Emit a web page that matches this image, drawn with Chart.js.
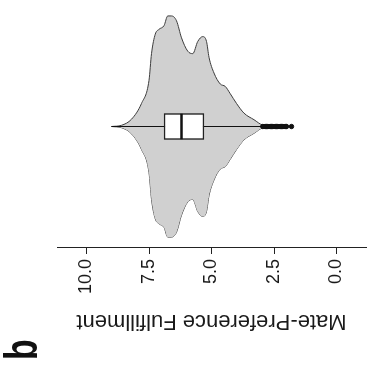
<!DOCTYPE html>
<html>
<head>
<meta charset="utf-8">
<script src="https://cdn.jsdelivr.net/npm/chart.js@4.4.1/dist/chart.umd.min.js"></script>
<style>
    html, body { margin: 0; padding: 0; background: #fff; overflow: hidden; }
    /* the figure is stored turned a quarter turn, so draw it upright and turn the canvas */
    #wrap {
        position: absolute; left: 0; top: 0;
        width: 370px; height: 371px;
        transform-origin: 0 0;
        transform: translateY(370px) rotate(-90deg);
    }
</style>
</head>
<body>
<div id="wrap"><canvas id="violinChart" width="370" height="371"></canvas></div>
<script>
// axis ticks
const tickValues = [0, 2.5, 5, 7.5, 10];

// violin outline: value and half-width (density) at that value
const violinValues  = [9.0, 8.6, 8.2, 7.8, 7.5, 7.4, 7.25, 7.1, 6.9, 6.75, 6.6, 6.4, 6.2, 5.95, 5.75, 5.55, 5.35, 5.2, 5.1, 4.9, 4.65, 4.45, 4.25, 4.0, 3.7, 3.3, 2.95, 2.5, 1.8];
const violinDensity = [0, 0.01, 0.06, 0.19, 0.38, 0.6, 0.76, 0.8, 0.83, 0.91, 0.91, 0.87, 0.73, 0.62, 0.6, 0.7, 0.74, 0.7, 0.57, 0.44, 0.35, 0.33, 0.27, 0.19, 0.11, 0.056, 0.012, 0.004, 0];

// boxplot
const boxRange = [5.3, 6.9];
const medianValue = 6.2;
const whiskerRange = [3.0, 9.0];
const outlierValues = [2.95, 2.9, 2.85, 2.8, 2.75, 2.7, 2.65, 2.6, 2.55, 2.5, 2.45, 2.4, 2.35, 2.3, 2.25, 2.2, 2.15, 2.1, 2.05, 2.0, 1.8];

const fontFamily = '"Liberation Sans", Arial, sans-serif';
const boxHalf = 0.105;

// panel letter, squeezed a bit to look like the narrow original face
const panelLetter = {
    id: 'panelLetter',
    afterDraw: function (chart) {
        const ctx = chart.ctx;
        ctx.save();
        ctx.translate(10, 37);
        ctx.scale(0.72, 1);
        ctx.fillStyle = '#111';
        ctx.font = 'bold 47px ' + fontFamily;
        ctx.textBaseline = 'alphabetic';
        ctx.fillText('b', 0, 0);
        ctx.restore();
    }
};

document.addEventListener('DOMContentLoaded', function () {
    const ctx = document.getElementById('violinChart').getContext('2d');
    new Chart(ctx, {
        type: 'line',
        data: {
            datasets: [{
                label: 'Violin right',
                data: violinValues.map((v, i) => ({ x: violinDensity[i], y: v })),
                indexAxis: 'y',
                borderColor: '#3c3c3c',
                borderWidth: 1,
                backgroundColor: '#d0d0d0',
                fill: '+1',
                pointRadius: 0,
                cubicInterpolationMode: 'monotone',
                order: 5
            }, {
                label: 'Violin left',
                data: violinValues.map((v, i) => ({ x: -violinDensity[i], y: v })),
                indexAxis: 'y',
                borderColor: '#3c3c3c',
                borderWidth: 1,
                fill: false,
                pointRadius: 0,
                cubicInterpolationMode: 'monotone',
                order: 5
            }, {
                label: 'Whiskers',
                data: [{ x: 0, y: whiskerRange[0] }, { x: 0, y: whiskerRange[1] }],
                indexAxis: 'y',
                borderColor: '#111',
                borderWidth: 1,
                fill: false,
                pointRadius: 0,
                order: 4
            }, {
                type: 'bar',
                label: 'Box',
                data: [{ x: 0, y: boxRange }],
                backgroundColor: '#fff',
                borderColor: '#222',
                borderWidth: 1.5,
                borderSkipped: false,
                barThickness: 26,
                order: 3
            }, {
                label: 'Median',
                data: [{ x: -boxHalf, y: medianValue }, { x: boxHalf, y: medianValue }],
                borderColor: '#111',
                borderWidth: 2.5,
                fill: false,
                pointRadius: 0,
                order: 2
            }, {
                type: 'scatter',
                label: 'Outliers',
                data: outlierValues.map(v => ({ x: 0, y: v })),
                backgroundColor: '#111',
                borderColor: '#111',
                pointRadius: 2.2,
                order: 1
            }]
        },
        options: {
            responsive: false,
            animation: false,
            layout: {
                padding: { top: 57, left: 0, right: 0, bottom: 0 }
            },
            scales: {
                x: {
                    type: 'linear',
                    display: false,
                    min: -1,
                    max: 1,
                    offset: false
                },
                y: {
                    type: 'linear',
                    position: 'left',
                    min: -1.18,
                    max: 11.18,
                    afterBuildTicks: function (scale) {
                        scale.ticks = tickValues.map(v => ({ value: v }));
                    },
                    afterFit: function (scale) {
                        scale.width = 122;
                        scale.paddingTop = 0;
                        scale.paddingBottom = 0;
                    },
                    ticks: {
                        autoSkip: false,
                        padding: 5,
                        color: '#1a1a1a',
                        font: { family: fontFamily, size: 18 },
                        callback: function (value) {
                            return Number(value).toFixed(1);
                        }
                    },
                    grid: {
                        drawOnChartArea: false,
                        drawTicks: true,
                        tickLength: 6,
                        color: '#222',
                        lineWidth: 1
                    },
                    border: {
                        display: true,
                        color: '#222',
                        width: 1
                    },
                    title: {
                        display: true,
                        text: 'Mate-Preference Fulfillment',
                        color: '#1a1a1a',
                        font: { family: fontFamily, size: 22 },
                        padding: { top: 36, bottom: 0 }
                    }
                }
            },
            plugins: {
                legend: { display: false },
                tooltip: { enabled: false }
            }
        },
        plugins: [panelLetter]
    });
});
</script>
</body>
</html>
